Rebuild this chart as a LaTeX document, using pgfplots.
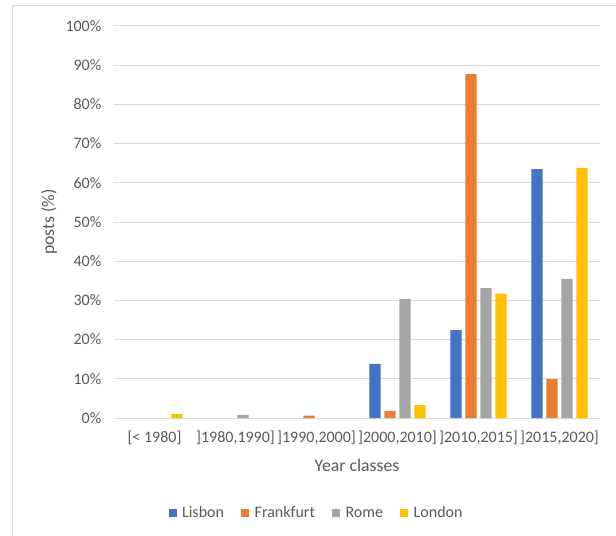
\documentclass[border=0pt]{standalone}
\usepackage{fontspec}
\setmainfont{Carlito}
\usepackage{pgfplots}
\pgfplotsset{compat=1.18}
\definecolor{cLis}{HTML}{4472C4}
\definecolor{cFra}{HTML}{ED7D31}
\definecolor{cRom}{HTML}{A5A5A5}
\definecolor{cLon}{HTML}{FFC000}
\definecolor{gridc}{HTML}{D9D9D9}
\definecolor{textc}{HTML}{595959}
\begin{document}
\begin{tikzpicture}
\path[use as bounding box] (-85.5pt,-87.75pt) rectangle (376.5pt,313.5pt);
\draw[gridc, line width=0.75pt] (-75.75pt,-90pt) -- (-75.75pt,309pt) -- (380pt,309pt);
\begin{axis}[
  at={(0pt,0pt)}, anchor=south west,
  width=364.5pt, height=294pt, scale only axis,
  xmin=-0.5, xmax=5.5, ymin=0, ymax=100,
  ybar=2.75pt, bar width=8.5pt,
  xtick={0,1,2,3,4,5},
  xticklabels={{[< 1980]},{]1980,1990]},{]1990,2000]},{]2000,2010]},{]2010,2015]},{]2015,2020]}},
  ytick={0,10,...,100},
  yticklabel={\pgfmathprintnumber{\tick}\%},
  /pgf/number format/assume math mode=true,
  ymajorgrids, grid style={gridc, line width=0.75pt},
  axis line style={draw=none}, tick style={draw=none},
  ticklabel style={font=\fontsize{12}{14}\selectfont, text=textc},
  yticklabel style={xshift=-6pt},
  xticklabel style={yshift=-2pt},
  xlabel={Year classes}, ylabel={posts (\%)},
  label style={font=\fontsize{13.3}{16}\selectfont, text=textc},
  xlabel style={at={(axis description cs:0.5,-0.1199)}, anchor=center},
  ylabel style={at={(axis description cs:-0.1337,0.5)}, anchor=center},
  legend style={at={(axis description cs:0.4177,-0.2423)}, anchor=center,
    legend columns=4, draw=none, fill=none,
    font=\fontsize{12}{14}\selectfont, text=textc,
    /tikz/every odd column/.append style={column sep=2pt},
    /tikz/every even column/.append style={column sep=11pt}},
  legend image code/.code={\fill[#1] (0pt,-3pt) rectangle (6pt,3pt);},
]
\addplot[fill=cLis, draw=none] coordinates {(3,13.8) (4,22.4) (5,63.5)};
\addplot[fill=cFra, draw=none] coordinates {(2,0.6) (3,1.8) (4,87.7) (5,9.9)};
\addplot[fill=cRom, draw=none] coordinates {(1,0.8) (3,30.4) (4,33.1) (5,35.5)};
\addplot[fill=cLon, draw=none] coordinates {(0,1.0) (3,3.3) (4,31.7) (5,63.8)};
\legend{Lisbon,Frankfurt,Rome,London}
\end{axis}
\end{tikzpicture}
\end{document}
